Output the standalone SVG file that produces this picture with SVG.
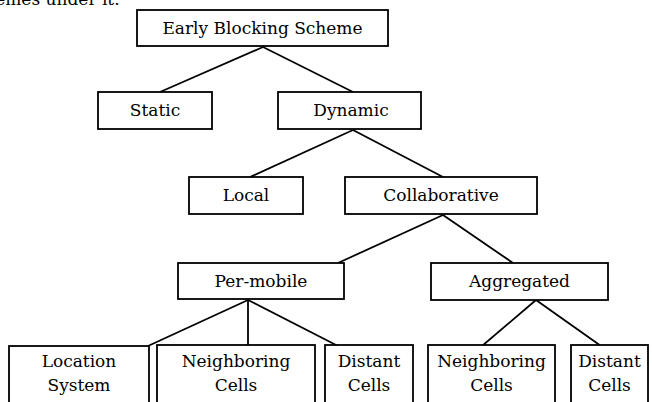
<svg xmlns="http://www.w3.org/2000/svg" width="652" height="402" viewBox="0 0 652 402">
<style>
.box{fill:#fff;stroke:#000;stroke-width:1.8}
text{font-family:"DejaVu Serif",serif;font-size:17px;fill:#000}
.lbl{text-anchor:middle}
.edge{stroke:#000;stroke-width:1.8;fill:none}
</style>
<rect width="652" height="402" fill="#fff"/>
<text x="-34" y="5">schemes under it.</text>
<g id="connectors">
<line class="edge" x1="263" y1="47" x2="160" y2="92"/>
<line class="edge" x1="263" y1="47" x2="353" y2="92"/>
<line class="edge" x1="353" y1="130" x2="250" y2="177"/>
<line class="edge" x1="353" y1="130" x2="443" y2="177"/>
<line class="edge" x1="443" y1="215" x2="338" y2="263"/>
<line class="edge" x1="443" y1="215" x2="513" y2="263"/>
<line class="edge" x1="248" y1="300" x2="148" y2="346"/>
<line class="edge" x1="248" y1="300" x2="248" y2="346"/>
<line class="edge" x1="248" y1="300" x2="338" y2="346"/>
<line class="edge" x1="536" y1="300" x2="482" y2="346"/>
<line class="edge" x1="536" y1="300" x2="601" y2="346"/>
</g>
<g id="n-early"><rect class="box" x="137" y="10" width="251" height="36"/><text class="lbl" x="262.5" y="34">Early Blocking Scheme</text></g>
<g id="n-static"><rect class="box" x="98" y="92" width="114" height="37"/><text class="lbl" x="155" y="116">Static</text></g>
<g id="n-dynamic"><rect class="box" x="278" y="92" width="143" height="37"/><text class="lbl" x="351" y="116">Dynamic</text></g>
<g id="n-local"><rect class="box" x="189" y="177" width="114" height="37"/><text class="lbl" x="246" y="201">Local</text></g>
<g id="n-collab"><rect class="box" x="345" y="177" width="192" height="37"/><text class="lbl" x="441" y="201">Collaborative</text></g>
<g id="n-permobile"><rect class="box" x="178" y="263" width="166" height="36"/><text class="lbl" x="261" y="287">Per-mobile</text></g>
<g id="n-aggregated"><rect class="box" x="431" y="263" width="177" height="37"/><text class="lbl" x="519.5" y="287">Aggregated</text></g>
<g id="n-location"><rect class="box" x="9" y="346" width="140" height="70"/><text class="lbl" x="79" y="367">Location</text><text class="lbl" x="79" y="391">System</text></g>
<g id="n-neigh1"><rect class="box" x="157" y="345" width="158" height="70"/><text class="lbl" x="236" y="367">Neighboring</text><text class="lbl" x="236" y="391">Cells</text></g>
<g id="n-distant1"><rect class="box" x="325" y="345" width="88" height="70"/><text class="lbl" x="369" y="367">Distant</text><text class="lbl" x="369" y="391">Cells</text></g>
<g id="n-neigh2"><rect class="box" x="428" y="345" width="127" height="70"/><text class="lbl" x="491.5" y="367">Neighboring</text><text class="lbl" x="491.5" y="391">Cells</text></g>
<g id="n-distant2"><rect class="box" x="571" y="345" width="77" height="70"/><text class="lbl" x="609.5" y="367">Distant</text><text class="lbl" x="609.5" y="391">Cells</text></g>
</svg>
